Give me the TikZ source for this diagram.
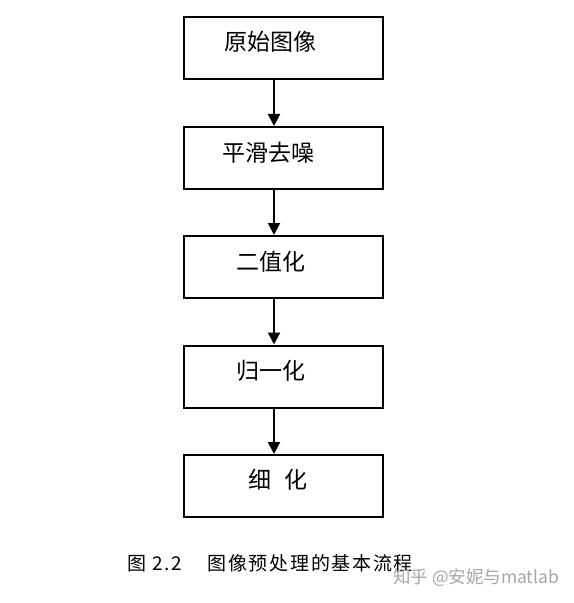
\documentclass[tikz,border=0pt]{standalone}
\usepackage{fontspec}
\newfontfamily\cjk{Noto Sans CJK SC}
\usetikzlibrary{arrows.meta}
\tikzset{
  box/.style={draw=black, line width=2bp, minimum width=199bp, minimum height=62bp, inner sep=0pt},
  lbl/.style={font=\cjk\fontsize{23bp}{26bp}\selectfont, inner sep=0pt},
  arr/.style={line width=2bp, -{Triangle[width=12bp,length=12bp]}},
  captext/.style={font=\cjk\fontsize{19bp}{22bp}\selectfont, inner sep=0pt},
  wm/.style={font=\cjk\fontsize{17.5bp}{20bp}\selectfont, text=black!35, inner sep=0pt}
}
\newcommand\cg{\hspace{1.7bp}}
\begin{document}
\begin{tikzpicture}[x=1bp,y=-1bp]
\useasboundingbox (0,0) rectangle (574,603);
\node[box] (b1) at (283.5,48) {};
\node[box] (b2) at (283.5,158) {};
\node[box] (b3) at (283.5,267) {};
\node[box] (b4) at (283.5,376.5) {};
\node[box] (b5) at (283.5,486) {};
\node[lbl] (t1) at (270,42) {原始图像};
\node[lbl] (t2) at (268,153) {平滑去噪};
\node[lbl] (t3) at (271,262) {二值化};
\node[lbl] (t4) at (271,371) {归一化};
\node[lbl] (t5) at (278,480) {细\hspace{14bp}化};
\foreach \a/\b in {b1/b2,b2/b3,b3/b4,b4/b5}
  \draw[arr] ([xshift=-9.5bp]\a.south) -- ([xshift=-9.5bp]\b.north);
\node[captext, anchor=west] (cp) at (127,563) {图\hspace{6bp}2\hspace{1.5bp}.\hspace{1.5bp}2\hspace{26bp}图\cg 像\cg 预\cg 处\cg 理\cg 的\cg 基\cg 本\cg 流\cg 程};
\node[wm, anchor=west] (wm) at (393,578) {知乎 @安妮与matlab};
\end{tikzpicture}
\end{document}
